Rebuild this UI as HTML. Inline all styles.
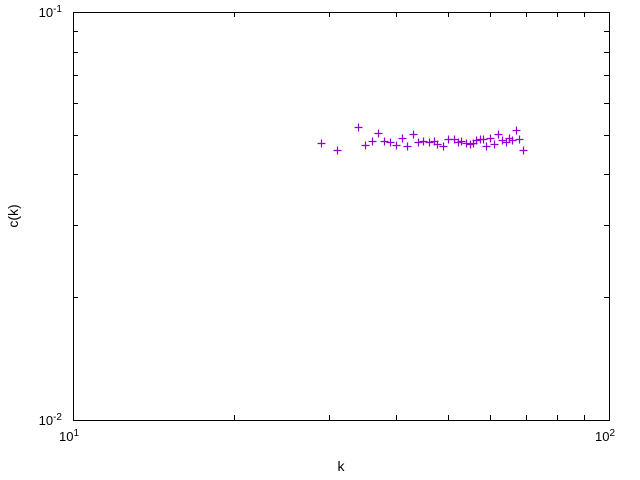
<!DOCTYPE html>
<html><head><meta charset="utf-8"><style>
body{margin:0;background:#fff}
svg{display:block;font-family:"Liberation Sans",sans-serif}
</style></head><body>
<svg id="chart" width="640" height="480" viewBox="0 0 640 480">
<rect width="640" height="480" fill="#fff"/>
<g id="axes"></g>
<g id="points"></g>
<text x="18" y="216" font-size="14" text-anchor="middle" transform="rotate(-90 18 216)">c(k)</text>
<text x="341" y="471" font-size="14" text-anchor="middle">k</text>
</svg>
<script>
const kValues=[29.0,31.1,34.0,35.0,36.1,37.1,38.0,39.0,40.1,41.1,42.0,43.1,44.0,45.0,46.1,47.2,47.8,49.0,50.1,51.4,52.3,53.0,54.1,55.0,55.8,56.5,57.5,58.2,59.0,60.0,61.0,62.1,63.1,64.2,65.1,65.9,67.1,67.9,69.1];
const cValues=[0.0478,0.0459,0.0523,0.0472,0.0483,0.0505,0.0483,0.0480,0.0472,0.0491,0.0469,0.0502,0.0480,0.0483,0.0480,0.0483,0.0475,0.0469,0.0488,0.0488,0.0480,0.0483,0.0478,0.0475,0.0478,0.0486,0.0488,0.0488,0.0469,0.0491,0.0475,0.0502,0.0486,0.0480,0.0491,0.0486,0.0514,0.0488,0.0459];
const xTickLabels=["1","2"];
const yTickLabels=["-1","-2"];
const L=73,R=609,T=12,B=420;
const X=k=>L+(Math.log10(k)-1)*(R-L);
const Y=c=>T+(-1-Math.log10(c))*(B-T);
const NS="http://www.w3.org/2000/svg";
function mk(t,a,p){const e=document.createElementNS(NS,t);for(const k in a)e.setAttribute(k,a[k]);p.appendChild(e);return e;}
const ax=document.getElementById('axes');
let d=`M${L+.5} ${T+.5}H${R+.5}V${B+.5}H${L+.5}Z`;
for(let m=1;m<=10;m++){const x=Math.round(X(10*m))+.5;const len=(m==1||m==10)?9:5;
d+=`M${x} ${B}v${-len}M${x} ${T}v${len}`;}
for(let m=1;m<=10;m++){const y=Math.round(Y(0.01*m))+.5;const len=(m==1||m==10)?9:5;
d+=`M${L} ${y}h${len}M${R} ${y}h${-len}`;}
const fr=mk('path',{d:d,stroke:'#000','stroke-width':1,fill:'none'},ax);


[10,100].forEach((v,i)=>{const t=mk('text',{x:X(v)-4,y:441,'font-size':13,'text-anchor':'middle'},ax);


t.innerHTML='10<tspan dy="-5" font-size="10">'+xTickLabels[i]+'</tspan>';});
[0.1,0.01].forEach((v,i)=>{const t=mk('text',{x:62,y:Y(v)+5,'font-size':13,'text-anchor':'end'},ax);


t.innerHTML='10<tspan dy="-5" font-size="10">'+yTickLabels[i]+'</tspan>';});
const pg=document.getElementById('points');
kValues.forEach((k,i)=>{const x=Math.round(X(k))+.5,y=Math.round(Y(cValues[i]))+.5;
const p=mk('path',{d:`M${x-4} ${y}h8M${x} ${y-4}v8`,stroke:'#9400d3','stroke-width':1.2,fill:'none'},pg);

});
</script>
</body></html>
